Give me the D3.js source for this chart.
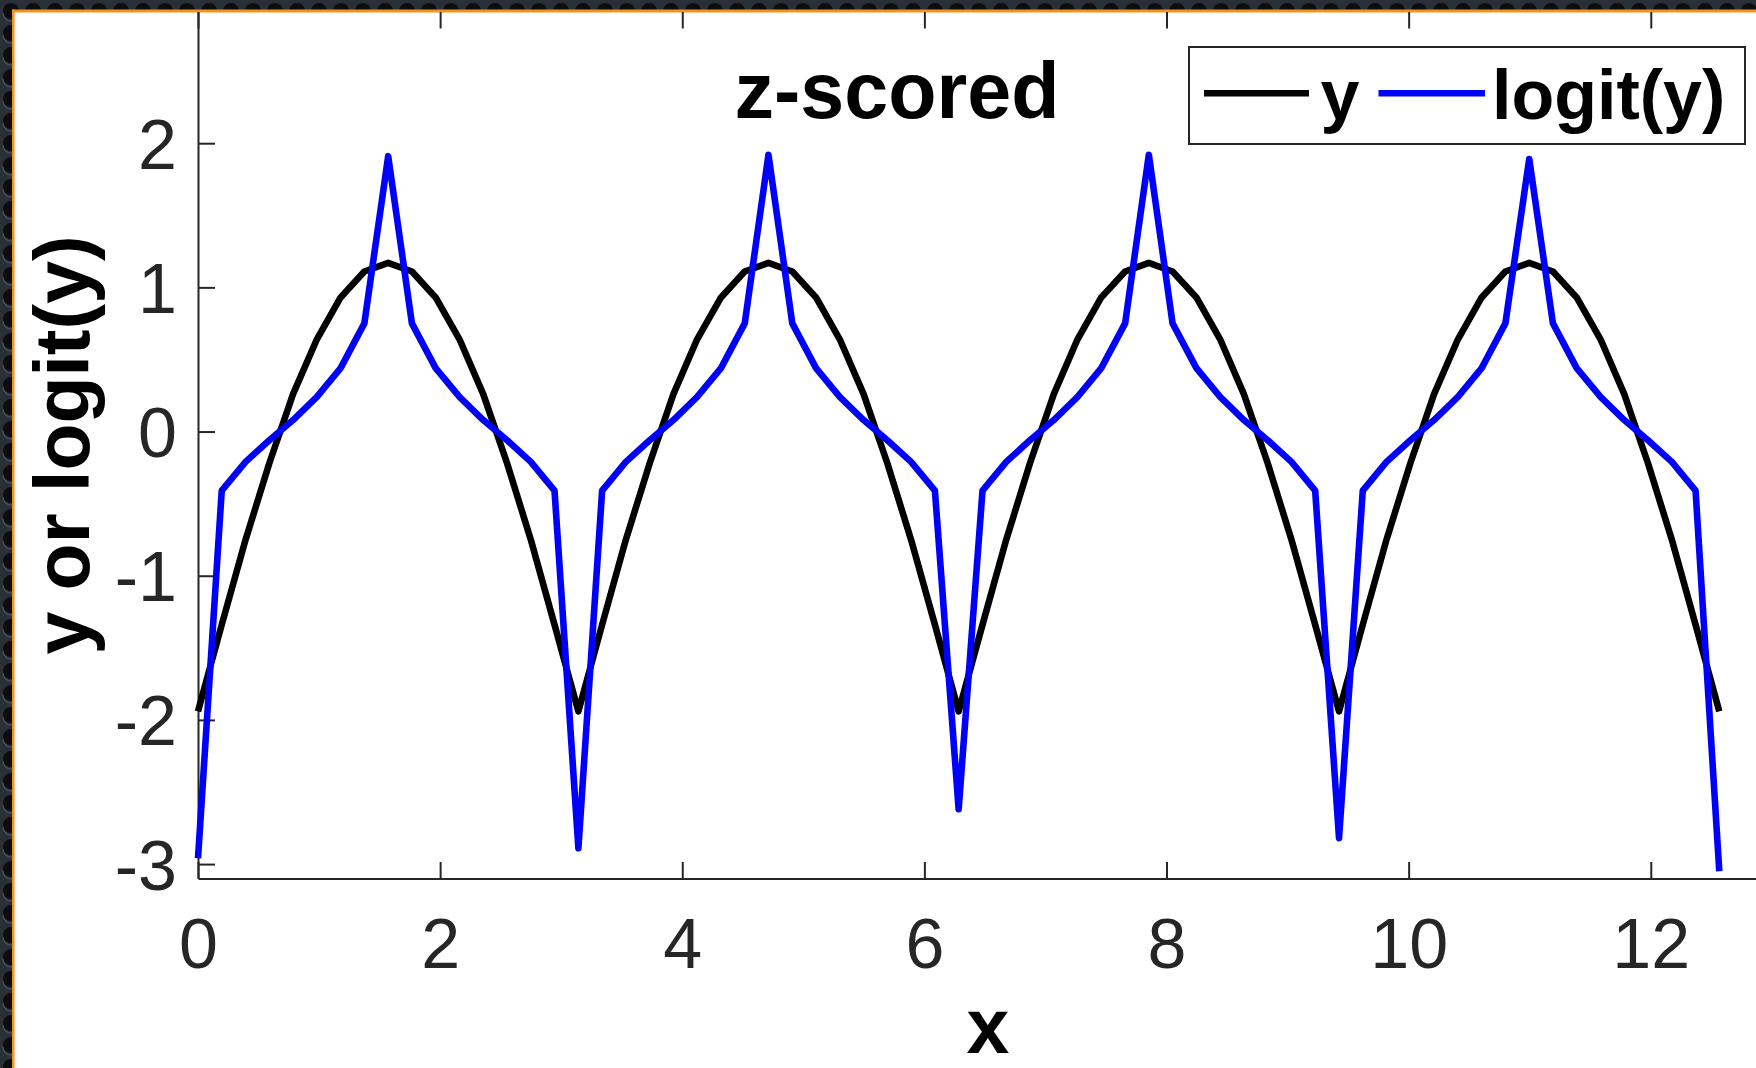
<!DOCTYPE html>
<html>
<head>
<meta charset="utf-8">
<script src="https://cdn.jsdelivr.net/npm/d3@7/dist/d3.min.js"></script>
<style>
  html, body { margin: 0; padding: 0; background: #1b1e23; overflow: hidden; }
  svg { display: block; }
  text { font-family: "Liberation Sans", Arial, Helvetica, sans-serif; }
</style>
</head>
<body>
<svg id="chart" width="1756" height="1068"></svg>
<script>
// ---- data ----
const xValues = [
  0, 0.196, 0.393, 0.589, 0.785, 0.982, 1.178, 1.374, 1.571, 1.767, 1.963, 2.160, 2.356, 2.553, 2.749, 2.945,
  3.142, 3.338, 3.534, 3.731, 3.927, 4.123, 4.320, 4.516, 4.712, 4.909, 5.105, 5.301, 5.498, 5.694, 5.890, 6.087,
  6.283, 6.480, 6.676, 6.872, 7.069, 7.265, 7.461, 7.658, 7.854, 8.050, 8.247, 8.443, 8.639, 8.836, 9.032, 9.228,
  9.425, 9.621, 9.817, 10.014, 10.210, 10.407, 10.603, 10.799, 10.996, 11.192, 11.388, 11.585, 11.781, 11.977, 12.174, 12.370,
  12.566
];
const yValues = [
  -1.94, -1.34, -0.75, -0.22, 0.26, 0.64, 0.93, 1.11, 1.17, 1.11, 0.93, 0.64, 0.26, -0.22, -0.75, -1.34,
  -1.94, -1.34, -0.75, -0.22, 0.26, 0.64, 0.93, 1.11, 1.17, 1.11, 0.93, 0.64, 0.26, -0.22, -0.75, -1.34,
  -1.94, -1.34, -0.75, -0.22, 0.26, 0.64, 0.93, 1.11, 1.17, 1.11, 0.93, 0.64, 0.26, -0.22, -0.75, -1.34,
  -1.94, -1.34, -0.75, -0.22, 0.26, 0.64, 0.93, 1.11, 1.17, 1.11, 0.93, 0.64, 0.26, -0.22, -0.75, -1.34,
  -1.94
];
const logitValues = [
  -2.96, -0.41, -0.21, -0.06, 0.08, 0.24, 0.44, 0.75, 1.91, 0.75, 0.44, 0.24, 0.08, -0.06, -0.21, -0.41,
  -2.89, -0.41, -0.21, -0.06, 0.08, 0.24, 0.44, 0.75, 1.92, 0.75, 0.44, 0.24, 0.08, -0.06, -0.21, -0.41,
  -2.62, -0.41, -0.21, -0.06, 0.08, 0.24, 0.44, 0.75, 1.92, 0.75, 0.44, 0.24, 0.08, -0.06, -0.21, -0.41,
  -2.82, -0.41, -0.21, -0.06, 0.08, 0.24, 0.44, 0.75, 1.89, 0.75, 0.44, 0.24, 0.08, -0.06, -0.21, -0.41,
  -3.05
];
const xTicks = [0, 2, 4, 6, 8, 10, 12];
const yTicks = [-3, -2, -1, 0, 1, 2];
const titleText = "z-scored";
const xLabel = "x";
const yLabel = "y or logit(y)";
const seriesNames = ["y", "logit(y)"];

// ---- layout ----
const svg = d3.select("#chart");
const W = 1756, H = 1068;
const axColor = "#262626";

// background frame (textured dark strip with orange edge)
const defs = svg.append("defs");
const pat = defs.append("pattern").attr("id", "holes")
  .attr("width", 22).attr("height", 22).attr("patternUnits", "userSpaceOnUse");
pat.append("rect").attr("width", 22).attr("height", 22).attr("fill", "#2a3038");
pat.append("circle").attr("cx", 11).attr("cy", 11).attr("r", 8).attr("fill", "#0d0c0f");
pat.append("path").attr("d", "M3,13 A8,8 0 0 0 19,13").attr("fill", "none").attr("stroke", "#4a5561").attr("stroke-width", 1.2);
svg.append("rect").attr("x", 0).attr("y", 0).attr("width", W).attr("height", H).attr("fill", "url(#holes)");
svg.append("rect").attr("x", 14).attr("y", 12).attr("width", W - 14).attr("height", H - 12).attr("fill", "#ffffff");
svg.append("rect").attr("x", 12).attr("y", 9.5).attr("width", W - 12).attr("height", 3).attr("fill", "#f4921c");
svg.append("rect").attr("x", 12).attr("y", 9.5).attr("width", 2.5).attr("height", H).attr("fill", "#f4921c");

const x = d3.scaleLinear().domain([0, 13.15]).range([198, 1790]);
const y = d3.scaleLinear().domain([-3.1, 2.91]).range([878.5, 12]);

// axes
const fmt = d => String(d);
const gx = svg.append("g").attr("transform", `translate(0,${y(-3.1)})`)
  .call(d3.axisBottom(x).tickValues(xTicks).tickFormat(fmt).tickSizeInner(-16.5).tickSizeOuter(0).tickPadding(40));
const gxTop = svg.append("g").attr("transform", `translate(0,${y(2.91)})`)
  .call(d3.axisTop(x).tickValues(xTicks).tickFormat("").tickSizeInner(-16.5).tickSizeOuter(0));
const gy = svg.append("g").attr("transform", `translate(${x(0)},0)`)
  .call(d3.axisLeft(y).tickValues(yTicks).tickFormat(fmt).tickSizeInner(-17).tickSizeOuter(0).tickPadding(21));

[gx, gxTop, gy].forEach(g => {
  g.select(".domain").attr("stroke", axColor).attr("stroke-width", 2);
  g.selectAll(".tick line").attr("stroke", axColor).attr("stroke-width", 2);
  g.selectAll(".tick text").attr("fill", axColor).attr("font-size", 70)
    .attr("font-family", "'Liberation Sans', Arial, Helvetica, sans-serif");
});
gxTop.select(".domain").attr("stroke", "none");
gy.selectAll(".tick text").attr("dy", "0.357em");

// lines
const data = xValues.map((xv, i) => ({ x: xv, y: yValues[i], l: logitValues[i] }));
const lineY = d3.line().x(d => x(d.x)).y(d => y(d.y));
const lineL = d3.line().x(d => x(d.x)).y(d => y(d.l));
svg.append("path").datum(data).attr("d", lineY)
  .attr("fill", "none").attr("stroke", "#000000").attr("stroke-width", 6.6)
  .attr("stroke-linejoin", "round").attr("stroke-linecap", "butt");
svg.append("path").datum(data).attr("d", lineL)
  .attr("fill", "none").attr("stroke", "#0000ff").attr("stroke-width", 6.6)
  .attr("stroke-linejoin", "round").attr("stroke-linecap", "butt");

// title
svg.append("text").attr("x", 897).attr("y", 118.3).attr("text-anchor", "middle")
  .attr("font-size", 79).attr("font-weight", "bold").attr("fill", "#000").text(titleText);

// axis labels
svg.append("text").attr("x", 988).attr("y", 1053).attr("text-anchor", "middle")
  .attr("font-size", 77).attr("font-weight", "bold").attr("fill", "#000").text(xLabel);
svg.append("text").attr("transform", "translate(89,445) rotate(-90)").attr("text-anchor", "middle")
  .attr("font-size", 77).attr("font-weight", "bold").attr("fill", "#000").text(yLabel);

// legend
const lg = svg.append("g");
lg.append("rect").attr("x", 1189).attr("y", 47).attr("width", 556).attr("height", 97)
  .attr("fill", "#ffffff").attr("stroke", axColor).attr("stroke-width", 2);
const legendItems = [
  { name: seriesNames[0], color: "#000000", x0: 1204, x1: 1309, tx: 1320.5 },
  { name: seriesNames[1], color: "#0000ff", x0: 1378.5, x1: 1485, tx: 1492 }
];
legendItems.forEach(it => {
  lg.append("line").attr("x1", it.x0).attr("x2", it.x1).attr("y1", 93.3).attr("y2", 93.3)
    .attr("stroke", it.color).attr("stroke-width", 6.6);
  lg.append("text").attr("x", it.tx).attr("y", 119.3).attr("font-size", 70).attr("font-weight", "bold")
    .attr("fill", "#000").text(it.name);
});
</script>
</body>
</html>
